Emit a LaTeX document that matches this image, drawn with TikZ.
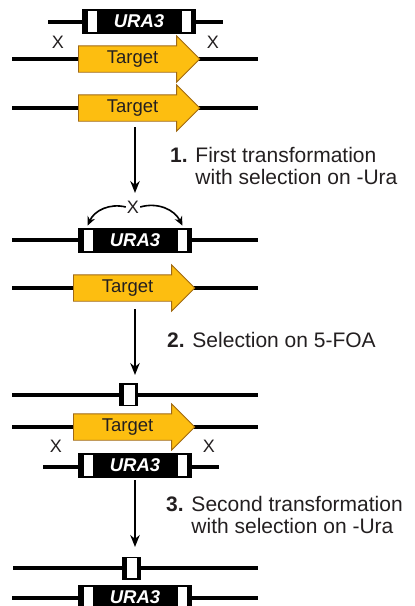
\documentclass[tikz,border=0pt]{standalone}
\usepackage{fontspec}
\setmainfont{Liberation Sans}
\usetikzlibrary{shapes,arrows.meta}
\definecolor{targetcolor}{RGB}{253,190,16}
\definecolor{targetedge}{RGB}{160,105,20}
\definecolor{labelcolor}{RGB}{35,31,32}

\begin{document}
\begin{tikzpicture}[
    x=1pt, y=-1pt,
    chrom/.style={line width=4.4pt},
    target/.style={single arrow, draw=targetedge, fill=targetcolor, line width=0.8pt, anchor=tail,
        single arrow head extend=10pt, inner xsep=28pt, inner ysep=4.5pt,
        text height=12.5pt, text depth=4pt, text=labelcolor, font=\fontsize{18.5}{20}\selectfont},
    cassette/.style={draw, fill=black, line width=0.8pt, minimum width=113pt, minimum height=24pt,
        inner sep=0pt, text=white, font=\fontsize{18.5}{20}\selectfont\bfseries\itshape,
        path picture={
            \fill[white] ([xshift=5pt,yshift=-1.5pt]path picture bounding box.north west)
                rectangle ([xshift=14pt,yshift=1.5pt]path picture bounding box.south west);
            \fill[white] ([xshift=-14pt,yshift=-1.5pt]path picture bounding box.north east)
                rectangle ([xshift=-5pt,yshift=1.5pt]path picture bounding box.south east);
        }},
    scar/.style={fill=black, minimum width=19pt, minimum height=23pt, inner sep=0pt,
        path picture={
            \fill[white] ([xshift=5pt,yshift=-1.5pt]path picture bounding box.north west)
                rectangle ([xshift=-3.5pt,yshift=1.5pt]path picture bounding box.south east);
        }},
    cross/.style={inner sep=1pt, text=labelcolor, font=\fontsize{18}{20}\selectfont},
    steplabel/.style={anchor=west, align=left, inner sep=0pt, text=labelcolor, font=\fontsize{21}{22.5}\selectfont},
    arrow/.style={-{Stealth[length=12pt,width=9.5pt]}, line width=1.8pt},
    swing/.style={-{Stealth[length=9pt,width=8pt]}, line width=1.6pt}
]
\useasboundingbox (0,0) rectangle (415,606);

% chromosomes and plasmid arms
\draw[chrom] (48,22) -- (223,22);
\draw[chrom] (12,59) -- (258,59);
\draw[chrom] (12,108) -- (258,108);
\draw[chrom] (12,240) -- (258,240);
\draw[chrom] (12,288) -- (258,288);
\draw[chrom] (12,395) -- (258,395);
\draw[chrom] (12,427) -- (258,427);
\draw[chrom] (43,467) -- (219,467);
\draw[chrom] (13,568) -- (258,568);
\draw[chrom] (12,598) -- (258,598);

% genes
\node[cassette] (u1) at (139,21) {URA3};
\node[target] (t1) at (78,59) {Target};
\node[target] (t2) at (78,108) {Target};
\node[cassette] (u2) at (135,240) {URA3};
\node[target] (t3) at (73,288) {Target};
\node[scar] (s1) at (128.5,394.5) {};
\node[target] (t4) at (73,427) {Target};
\node[cassette] (u3) at (135,465.5) {URA3};
\node[scar] (s2) at (131,568) {};
\node[cassette] (u4) at (135,597) {URA3};

% crossovers
\node[cross] (x1) at (58,42) {X};
\node[cross] (x2) at (213,42) {X};
\node[cross] (x3) at (133,207) {X};
\node[cross] (x4) at (56,446) {X};
\node[cross] (x5) at (209,446) {X};
\draw[swing] (x3.west) to[bend right=40] ([xshift=9.5pt,yshift=2pt]u2.north west);
\draw[swing] (x3.east) to[bend left=40] ([xshift=-9.5pt,yshift=2pt]u2.north east);

% steps
\coordinate (a1) at (135,127);
\coordinate (b1) at (135,193);
\coordinate (a2) at (135,309);
\coordinate (b2) at (135,375);
\coordinate (a3) at (135,480);
\coordinate (b3) at (135,547);
\draw[arrow] (a1) -- (b1);
\draw[arrow] (a2) -- (b2);
\draw[arrow] (a3) -- (b3);

\node[steplabel] (l1) at (170,166) {\textbf{1.} First transformation\\\phantom{\textbf{1.} }with selection on -Ura};
\node[steplabel] (l2) at (167,340) {\textbf{2.} Selection on 5-FOA};
\node[steplabel] (l3) at (166,515) {\textbf{3.} Second transformation\\\phantom{\textbf{3.} }with selection on -Ura};
\end{tikzpicture}
\end{document}
